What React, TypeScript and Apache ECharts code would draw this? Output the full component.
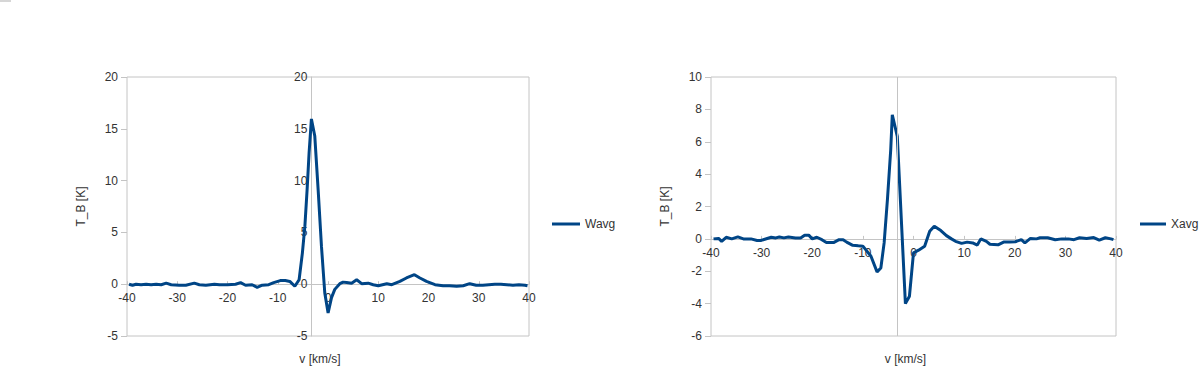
import React, { useEffect, useRef } from "react";
import * as echarts from "echarts";

// Wavg spectrum (left chart)
const wavgV = [-39.6, -38.9, -38.2, -37.2, -36.2, -35.2, -34.2, -33.2, -32.2, -31.2, -29.6, -28.3, -26.6, -25.6, -24.3, -22.6, -21.6, -20.0, -18.4, -17.4, -16.4, -15.1, -14.1, -13.1, -11.8, -10.8, -9.5, -8.5, -7.6, -6.6, -5.75, -5.1, -4.6, -4.16, -3.76, -3.3, -2.63, -1.96, -1.3, -0.64, 0.02, 0.7, 1.35, 2.35, 3.0, 3.7, 4.7, 5.7, 6.7, 8.0, 9.0, 10.0, 11.7, 12.7, 14.3, 15.6, 17.2, 18.3, 19.6, 21.3, 22.9, 24.2, 25.6, 26.9, 28.2, 29.5, 30.8, 32.0, 33.2, 34.4, 35.6, 36.8, 38.0, 39.2, 39.7];
const wavgT = [0.0, -0.1, 0.0, -0.05, 0.0, -0.05, 0.0, -0.05, 0.1, -0.05, -0.1, -0.1, 0.1, -0.05, -0.1, 0.0, -0.05, -0.05, 0.0, 0.15, -0.1, -0.05, -0.3, -0.1, -0.05, 0.15, 0.35, 0.35, 0.27, -0.2, 0.43, 3.0, 5.6, 9.1, 12.7, 15.95, 14.3, 9.1, 3.65, -0.85, -2.78, -1.3, -0.5, 0.05, 0.2, 0.17, 0.1, 0.43, 0.05, 0.1, -0.05, -0.15, 0.05, -0.05, 0.27, 0.6, 0.92, 0.6, 0.27, -0.05, -0.15, -0.15, -0.2, -0.15, 0.05, -0.1, -0.1, -0.05, 0.0, 0.0, -0.05, -0.1, -0.05, -0.1, -0.15];

// Xavg spectrum (right chart)
const xavgV = [-39.5, -38.5, -37.9, -37.0, -35.9, -34.7, -33.6, -32.1, -30.9, -30.2, -28.1, -27.2, -26.5, -25.6, -24.7, -23.3, -22.3, -21.5, -20.7, -20.0, -19.1, -18.1, -17.2, -15.8, -14.7, -13.9, -13.2, -12.0, -10.9, -10.0, -8.4, -7.2, -6.45, -5.8, -5.15, -4.5, -4.19, -3.2, -1.6, -0.8, 0.0, 1.0, 2.2, 3.2, 4.1, 5.4, 6.5, 7.5, 8.3, 9.5, 10.6, 11.7, 12.6, 13.3, 14.4, 15.1, 16.7, 17.8, 19.0, 20.1, 21.3, 22.0, 23.1, 24.3, 25.0, 26.5, 28.0, 29.3, 30.6, 31.7, 32.8, 34.2, 35.6, 36.7, 37.9, 39.0, 39.5];
const xavgT = [0.0, 0.03, -0.15, 0.1, 0.0, 0.12, 0.0, 0.0, -0.1, -0.1, 0.1, 0.06, 0.12, 0.06, 0.12, 0.06, 0.06, 0.23, 0.23, 0.0, 0.1, -0.05, -0.23, -0.23, -0.05, -0.05, -0.2, -0.4, -0.43, -0.45, -1.07, -2.04, -1.8, -0.25, 2.43, 5.5, 7.67, 6.33, -4.0, -3.54, -0.86, -0.7, -0.46, 0.47, 0.78, 0.51, 0.2, 0.0, -0.15, -0.28, -0.2, -0.25, -0.38, 0.0, -0.15, -0.33, -0.37, -0.2, -0.2, -0.18, -0.05, -0.25, 0.03, 0.0, 0.07, 0.07, -0.05, 0.0, 0.0, -0.05, 0.07, 0.03, 0.08, -0.08, 0.07, 0.0, -0.05];

// axis settings
const vMin = -40;
const vMax = 40;
const vStep = 10;
const wMin = -5;
const wMax = 20;
const wStep = 5;
const xMin = -6;
const xMax = 10;
const xStep = 2;
const yAxisCrossV = -3.3; // where the vertical axis crosses the velocity axis
const xAxisCrossT = 0; // where the velocity axis crosses the temperature axis

const FONT = "Liberation Sans, Arial, sans-serif";
const TEXT = "#333333";
const GRAYLINE = "#c4c4c4";
const BLUE = "#004586";

type Offs = { wCross: number; wZero: number; xZero: number };

export default function App() {
  const ref = useRef<HTMLDivElement>(null);
  useEffect(() => {
    if (!ref.current) return;
    const chart = echarts.init(ref.current, null, { renderer: "svg" });

    const labelStyle = { fontFamily: FONT, fontSize: 12, color: TEXT };
    const grids = [
      { left: 127, top: 77, width: 402, height: 259, show: true, borderColor: GRAYLINE, borderWidth: 1, backgroundColor: "transparent", containLabel: false, outerBoundsMode: "none" },
      { left: 711, top: 77, width: 405, height: 259, show: true, borderColor: GRAYLINE, borderWidth: 1, backgroundColor: "transparent", containLabel: false, outerBoundsMode: "none" },
    ];

    const mkXAxis = (gi: number, offset: number) => ({
      gridIndex: gi,
      type: "value",
      min: vMin,
      max: vMax,
      interval: vStep,
      position: "bottom",
      offset,
      axisLine: { show: true, onZero: false, lineStyle: { color: GRAYLINE, width: 1 } },
      axisTick: { show: true, inside: true, length: 3, lineStyle: { color: GRAYLINE } },
      axisLabel: { ...labelStyle, margin: 8, showMinLabel: true, showMaxLabel: true },
      splitLine: { show: false },
    });
    const mkXName = (gi: number) => ({
      gridIndex: gi,
      type: "value",
      min: vMin,
      max: vMax,
      position: "bottom",
      name: "v [km/s]",
      nameLocation: "middle",
      nameGap: 17,
      nameTextStyle: { fontFamily: FONT, fontSize: 12, color: TEXT, padding: [0, 16, 0, 0] },
      axisLine: { show: false, onZero: false },
      axisTick: { show: false },
      axisLabel: { show: false },
      splitLine: { show: false },
    });

    const mkYAxis = (gi: number, min: number, max: number, step: number) => ({
      gridIndex: gi,
      type: "value",
      min,
      max,
      interval: step,
      position: "left",
      name: "T_B [K]",
      nameLocation: "middle",
      nameGap: 40,
      nameRotate: 90,
      nameTextStyle: { fontFamily: FONT, fontSize: 12, color: TEXT },
      axisLine: { show: false, onZero: false },
      axisTick: { show: true, inside: false, length: 6, lineStyle: { color: GRAYLINE } },
      axisLabel: { ...labelStyle, margin: 9 },
      splitLine: { show: false },
    });

    const mkLegend = (name: string, left: number, w: number) => ({
      data: [name],
      left,
      top: 218,
      padding: 0,
      icon: "rect",
      itemWidth: w,
      itemHeight: 3,
      textStyle: { fontFamily: FONT, fontSize: 12, color: TEXT },
    });

    const buildOption = (o: Offs) => ({
      animation: false,
      grid: grids,
      xAxis: [mkXAxis(0, o.wZero), mkXName(0), mkXAxis(1, o.xZero), mkXName(1)],
      yAxis: [
        mkYAxis(0, wMin, wMax, wStep),
        {
          gridIndex: 0,
          type: "value",
          min: wMin,
          max: wMax,
          interval: wStep,
          position: "left",
          offset: o.wCross,
          axisLine: { show: true, onZero: false, lineStyle: { color: GRAYLINE, width: 1 } },
          axisTick: { show: false },
          axisLabel: { ...labelStyle, margin: 4 },
          splitLine: { show: false },
        },
        mkYAxis(1, xMin, xMax, xStep),
      ],
      legend: [mkLegend("Wavg", 552, 28), mkLegend("Xavg", 1140, 26)],
      graphic: [
        { type: "rect", left: 0, top: 0, shape: { width: 11, height: 2 }, style: { fill: "#d6d6d6" }, silent: true },
      ],
      series: [
        {
          name: "Wavg",
          type: "line",
          xAxisIndex: 0,
          yAxisIndex: 0,
          symbol: "none",
          color: BLUE,
          lineStyle: { color: BLUE, width: 3 },
          z: 3,
          data: wavgV.map((v, i) => [v, wavgT[i]]),
        },
        {
          name: "Xavg",
          type: "line",
          xAxisIndex: 2,
          yAxisIndex: 2,
          symbol: "none",
          color: BLUE,
          lineStyle: { color: BLUE, width: 3 },
          z: 3,
          data: xavgV.map((v, i) => [v, xavgT[i]]),
          markLine: {
            silent: true,
            symbol: "none",
            label: { show: false },
            lineStyle: { color: GRAYLINE, type: "solid", width: 1 },
            data: [{ xAxis: yAxisCrossV }],
          },
        },
      ],
    });

    chart.setOption(buildOption({ wCross: 0, wZero: 0, xZero: 0 }) as any);
    const crossPx = chart.convertToPixel({ xAxisIndex: 0 }, yAxisCrossV) as number;
    const wZeroPx = chart.convertToPixel({ yAxisIndex: 0 }, xAxisCrossT) as number;
    const xZeroPx = chart.convertToPixel({ yAxisIndex: 2 }, xAxisCrossT) as number;
    const offs: Offs = {
      wCross: -(crossPx - grids[0].left),
      wZero: -(grids[0].top + grids[0].height - wZeroPx),
      xZero: -(grids[1].top + grids[1].height - xZeroPx),
    };
    chart.setOption(buildOption(offs) as any, { notMerge: true });

    return () => chart.dispose();
  }, []);

  return (
    <div
      ref={ref}
      style={{ position: "absolute", left: 0, top: 0, width: 1200, height: 367, background: "#ffffff" }}
    />
  );
}
